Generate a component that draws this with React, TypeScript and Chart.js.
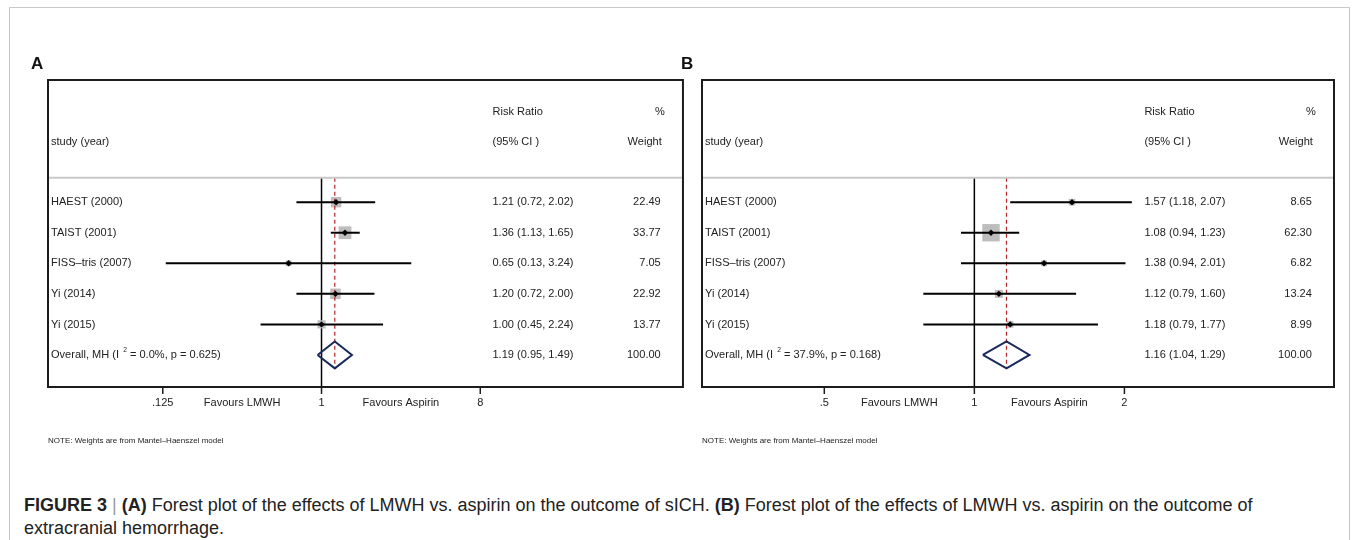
import React, { useEffect, useRef } from "react";
import { Chart, registerables } from "chart.js";

Chart.register(...registerables);

// ---------- data ----------
const studies = ["HAEST (2000)", "TAIST (2001)", "FISS\u2013tris (2007)", "Yi (2014)", "Yi (2015)"];

const rrA = [1.21, 1.36, 0.65, 1.2, 1.0];
const loA = [0.72, 1.13, 0.13, 0.72, 0.45];
const hiA = [2.02, 1.65, 3.24, 2.0, 2.24];
const weightA = [22.49, 33.77, 7.05, 22.92, 13.77];
const overallA = [1.19, 0.95, 1.49];
const hetA = ["0.0%", "0.625"];
const ticksA = [0.125, 1, 8];
const tickLabelsA = [".125", "1", "8"];
const xRangeA = [0.0278, 113.8];

const rrB = [1.57, 1.08, 1.38, 1.12, 1.18];
const loB = [1.18, 0.94, 0.94, 0.79, 0.79];
const hiB = [2.07, 1.23, 2.01, 1.6, 1.77];
const weightB = [8.65, 62.3, 6.82, 13.24, 8.99];
const overallB = [1.16, 1.04, 1.29];
const hetB = ["37.9%", "0.168"];
const ticksB = [0.5, 1, 2];
const tickLabelsB = [".5", "1", "2"];
const xRangeB = [0.2842, 5.266];

const yRange = [-4, 6.05];

const FONT = '"Liberation Sans", Arial, sans-serif';
const TEXT = "#222";
const SX = 0.96; // slight horizontal condensing of the chart text

type PanelDef = {
  letter: string;
  letterDx: number;
  rr: number[];
  lo: number[];
  hi: number[];
  w: number[];
  overall: number[];
  het: string[];
  ticks: number[];
  tickLabels: string[];
  xRange: number[];
  boxK: number;
  padding: { left: number; right: number; top: number; bottom: number };
  width: number;
  height: number;
  canvasLeft: number;
};

const fmt = (v: number) => v.toFixed(2);

function txt(ctx: CanvasRenderingContext2D, s: string, x: number, y: number, align: CanvasTextAlign) {
  ctx.save();
  ctx.translate(x, y);
  ctx.scale(SX, 1);
  ctx.textAlign = align;
  ctx.fillText(s, 0, 0);
  ctx.restore();
}

function makePlugin(p: PanelDef) {
  return {
    id: "forestText" + p.letter,
    afterDraw(chart: any) {
      const ctx: CanvasRenderingContext2D = chart.ctx;
      const { left, right, top, bottom } = chart.chartArea;
      const W = right - left;
      const xs = chart.scales.x;
      const ys = chart.scales.y;
      ctx.save();

      // frame
      ctx.strokeStyle = "#1c1c1c";
      ctx.lineWidth = 2;
      ctx.strokeRect(left, top, W, bottom - top);

      // header separator
      const hy = ys.getPixelForValue(-0.8);
      ctx.strokeStyle = "#c8c8c8";
      ctx.lineWidth = 2;
      ctx.beginPath();
      ctx.moveTo(left + 1, hy);
      ctx.lineTo(right - 1, hy);
      ctx.stroke();

      // panel letter
      ctx.fillStyle = "#111";
      ctx.font = "bold 17px Arial, 'Liberation Sans', sans-serif";
      ctx.textBaseline = "middle";
      ctx.textAlign = "left";
      ctx.fillText(p.letter, left + p.letterDx, top - 16);

      const ciX = left + W * 0.7;
      const wX = left + W * 0.965;
      const F = `11.5px ${FONT}`;

      ctx.fillStyle = TEXT;
      ctx.font = F;
      // headers
      txt(ctx, "Risk Ratio", ciX, ys.getPixelForValue(-2.95), "left");
      txt(ctx, "(95% CI )", ciX, ys.getPixelForValue(-1.98), "left");
      txt(ctx, "study (year)", left + 3, ys.getPixelForValue(-1.98), "left");
      txt(ctx, "%", wX + 4, ys.getPixelForValue(-2.95), "right");
      txt(ctx, "Weight", wX + 1, ys.getPixelForValue(-1.98), "right");

      // rows
      studies.forEach((s, i) => {
        const y = ys.getPixelForValue(i);
        txt(ctx, s, left + 3, y, "left");
        txt(ctx, `${fmt(p.rr[i])} (${fmt(p.lo[i])}, ${fmt(p.hi[i])})`, ciX, y, "left");
        txt(ctx, fmt(p.w[i]), wX, y, "right");
      });

      // overall row
      const oy = ys.getPixelForValue(studies.length);
      const t1 = "Overall, MH (I ";
      txt(ctx, t1, left + 3, oy, "left");
      let cx = left + 3 + ctx.measureText(t1).width * SX + 1;
      ctx.font = `7px ${FONT}`;
      txt(ctx, "2", cx, oy - 5, "left");
      cx += ctx.measureText("2").width * SX;
      ctx.font = F;
      txt(ctx, ` = ${p.het[0]}, p = ${p.het[1]})`, cx, oy, "left");
      txt(ctx, `${fmt(p.overall[0])} (${fmt(p.overall[1])}, ${fmt(p.overall[2])})`, ciX, oy, "left");
      const total = p.w.reduce((a, b) => a + b, 0);
      txt(ctx, total.toFixed(2), wX, oy, "right");

      // axis ticks + labels
      ctx.strokeStyle = "#1c1c1c";
      ctx.lineWidth = 1.5;
      p.ticks.forEach((t, i) => {
        const x = xs.getPixelForValue(t);
        ctx.beginPath();
        ctx.moveTo(x, bottom);
        ctx.lineTo(x, bottom + 7);
        ctx.stroke();
        txt(ctx, p.tickLabels[i], x, bottom + 16, "center");
      });
      const mid1 = xs.getPixelForValue(Math.sqrt(p.ticks[0] * p.ticks[1]));
      const mid2 = xs.getPixelForValue(Math.sqrt(p.ticks[1] * p.ticks[2]));
      txt(ctx, "Favours LMWH", mid1, bottom + 16, "center");
      txt(ctx, "Favours Aspirin", mid2, bottom + 16, "center");

      // note
      ctx.textAlign = "left";
      ctx.font = `8px ${FONT}`;
      ctx.fillText("NOTE: Weights are from Mantel\u2013Haenszel model", left, bottom + 54);

      ctx.restore();
    },
  };
}

function buildConfig(p: PanelDef): any {
  const n = p.rr.length;
  const datasets: any[] = [];
  datasets.push({
    type: "scatter",
    data: p.rr.map((v, i) => ({ x: v, y: i })),
    pointStyle: "rectRot",
    pointRadius: 3.2,
    backgroundColor: "#000",
    borderWidth: 0,
    clip: false,
  });
  datasets.push({
    type: "line",
    data: [
      { x: p.overall[1], y: n },
      { x: p.overall[0], y: n - 0.44 },
      { x: p.overall[2], y: n },
      { x: p.overall[0], y: n + 0.44 },
      { x: p.overall[1], y: n },
    ],
    showLine: true,
    borderColor: "#1b2a5c",
    borderWidth: 2,
    borderJoinStyle: "miter",
    pointRadius: 0,
    fill: false,
    tension: 0,
    clip: false,
  });
  p.lo.forEach((lo, i) => {
    datasets.push({
      type: "line",
      data: [
        { x: lo, y: i },
        { x: p.hi[i], y: i },
      ],
      showLine: true,
      borderColor: "#000",
      borderWidth: 2,
      pointRadius: 0,
      clip: false,
    });
  });
  datasets.push({
    type: "line",
    data: [
      { x: p.overall[0], y: -0.8 },
      { x: p.overall[0], y: n + 0.45 },
    ],
    showLine: true,
    borderColor: "#b0262a",
    borderWidth: 1.2,
    borderDash: [4, 3],
    pointRadius: 0,
    clip: false,
  });
  datasets.push({
    type: "scatter",
    data: p.rr.map((v, i) => ({ x: v, y: i })),
    pointStyle: "rect",
    pointRadius: p.w.map((w) => (p.boxK * Math.sqrt(w)) / Math.SQRT2),
    backgroundColor: "#bdbdbd",
    borderWidth: 0,
    clip: false,
  });
  datasets.push({
    type: "line",
    data: [
      { x: 1, y: -0.8 },
      { x: 1, y: yRange[1] },
    ],
    showLine: true,
    borderColor: "#000",
    borderWidth: 1.5,
    pointRadius: 0,
    clip: false,
  });

  return {
    type: "scatter",
    data: { datasets },
    options: {
      responsive: false,
      animation: false,
      devicePixelRatio: 1,
      events: [],
      layout: { padding: p.padding },
      plugins: { legend: { display: false }, tooltip: { enabled: false } },
      scales: {
        x: { type: "logarithmic", min: p.xRange[0], max: p.xRange[1], display: false, bounds: "data" },
        y: { type: "linear", min: yRange[0], max: yRange[1], reverse: true, display: false },
      },
    },
    plugins: [makePlugin(p)],
  };
}

function ForestPanel({ p }: { p: PanelDef }) {
  const ref = useRef<HTMLCanvasElement>(null);
  useEffect(() => {
    if (!ref.current) return;
    const chart = new Chart(ref.current, buildConfig(p));
    return () => chart.destroy();
  }, [p]);
  return (
    <canvas
      ref={ref}
      width={p.width}
      height={p.height}
      style={{ position: "absolute", left: p.canvasLeft, top: 0, width: p.width, height: p.height, display: "block" }}
    />
  );
}

const panelA: PanelDef = {
  letter: "A",
  letterDx: -17,
  rr: rrA,
  lo: loA,
  hi: hiA,
  w: weightA,
  overall: overallA,
  het: hetA,
  ticks: ticksA,
  tickLabels: tickLabelsA,
  xRange: xRangeA,
  boxK: 2.2,
  padding: { left: 48, right: 8, top: 80, bottom: 73 },
  width: 692,
  height: 460,
  canvasLeft: 0,
};

const panelB: PanelDef = {
  letter: "B",
  letterDx: -21,
  rr: rrB,
  lo: loB,
  hi: hiB,
  w: weightB,
  overall: overallB,
  het: hetB,
  ticks: ticksB,
  tickLabels: tickLabelsB,
  xRange: xRangeB,
  boxK: 2.2,
  padding: { left: 26, right: 23, top: 80, bottom: 73 },
  width: 681,
  height: 460,
  canvasLeft: 676,
};

export default function App() {
  return (
    <div style={{ position: "absolute", left: 0, top: 0, width: 1357, height: 540, overflow: "hidden", background: "#fff" }}>
      <div
        style={{
          position: "absolute",
          left: 9,
          top: 7,
          width: 1341,
          height: 600,
          border: "1.5px solid #c8c8c8",
          boxSizing: "border-box",
        }}
      />
      <ForestPanel p={panelA} />
      <ForestPanel p={panelB} />
      <div
        style={{
          position: "absolute",
          left: 24,
          top: 494,
          fontFamily: '"Liberation Sans", Arial, sans-serif',
          fontSize: 18,
          lineHeight: "23px",
          color: "#222",
          whiteSpace: "nowrap",
        }}
      >
        <b>FIGURE 3</b> <span style={{ color: "#999", fontWeight: 300 }}>|</span> <b>(A)</b> Forest plot of the
        effects of LMWH vs. aspirin on the outcome of sICH. <b>(B)</b> Forest plot of the effects of LMWH vs. aspirin on
        the outcome of
        <br />
        extracranial hemorrhage.
      </div>
    </div>
  );
}
